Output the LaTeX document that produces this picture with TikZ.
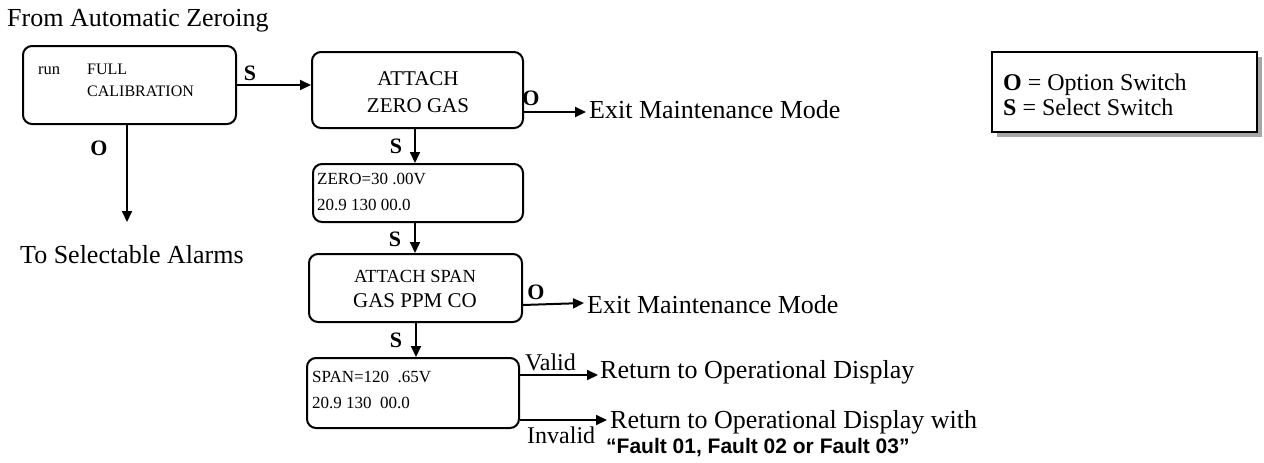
\documentclass[tikz,border=0pt]{standalone}
\usepackage{fontspec}
\setmainfont{Liberation Serif}
\newfontfamily\arialfont{Liberation Sans}
\usetikzlibrary{arrows.meta,calc}
\tikzset{
  box/.style={draw, line width=2pt, rounded corners=9pt, inner sep=0pt},
  arr/.style={line width=2pt, -{Triangle[length=11pt,width=10pt]}},
  txt/.style={inner sep=0pt, anchor=base west, font=\fontsize{26}{30}\selectfont},
  small/.style={inner sep=0pt, anchor=base west, font=\fontsize{17}{20}\selectfont},
  mid/.style={inner sep=0pt, anchor=base, font=\fontsize{21}{24}\selectfont},
  lbl/.style={inner sep=0pt, font=\bfseries\fontsize{22}{24}\selectfont},
  vlbl/.style={inner sep=0pt, anchor=base west, font=\fontsize{24}{28}\selectfont}
}
\begin{document}
\begin{tikzpicture}[x=1pt,y=-1pt]
\useasboundingbox (0,0) rectangle (1264,463);
% boxes
\node[box, minimum width=213pt, minimum height=78pt] (b1) at (129.5,85) {};
\node[box, minimum width=211pt, minimum height=76pt] (b2) at (417.5,90) {};
\node[box, minimum width=210pt, minimum height=58pt] (b3) at (418,193) {};
\node[box, minimum width=213pt, minimum height=68pt] (b4) at (415.5,288) {};
\node[box, minimum width=212pt, minimum height=70pt] (b5) at (413,393) {};
% box texts
\node[txt] (from) at (7,27) {From Automatic Zeroing};
\node[small, font=\fontsize{16.5}{20}\selectfont] (run) at (38,74) {run};
\node[small, font=\fontsize{16}{20}\selectfont] (full) at (87,74) {FULL};
\node[small, font=\fontsize{16}{20}\selectfont] (calib) at (87,96) {CALIBRATION};
\node[mid] (att1) at (418,85) {ATTACH};
\node[mid] (zg) at (418,112) {ZERO GAS};
\node[small] (z1) at (317,184) {ZERO=30 .00V};
\node[small] (z2) at (317,210) {20.9 130 00.0};
\node[mid, font=\fontsize{18.5}{22}\selectfont] (att2) at (415,282) {ATTACH SPAN};
\node[mid] (gpc) at (415,307) {GAS PPM CO};
\node[small] (s1) at (312,382) {SPAN=120\ \ .65V};
\node[small] (s2) at (312,408) {20.9 130\ \ 00.0};
% outer texts
\node[txt] (alarms) at (20,263) {To Selectable Alarms};
\node[txt] (exit1) at (589,118) {Exit Maintenance Mode};
\node[txt] (exit2) at (587,313) {Exit Maintenance Mode};
\node[txt] (ret1) at (600,378) {Return to Operational Display};
\node[txt] (ret2) at (610,428) {Return to Operational Display with};
\node[inner sep=0pt, anchor=base west, font=\arialfont\bfseries\fontsize{21}{24}\selectfont] (fault) at (606,453) {“Fault 01, Fault 02 or Fault 03”};
% coordinates
\coordinate (alarmEnd) at (127,222);
\coordinate (e1) at (586,112);
\coordinate (e2) at (584,303);
\coordinate (r1) at (598,375);
\coordinate (r2) at (607,420);
% connectors
\draw[arr] (b1.east) -- (b1.east -| b2.west);
\draw[arr] (b1.south -| alarmEnd) -- (alarmEnd);
\draw[arr] (b2.east |- e1) -- (e1);
\draw[arr] (b2.south -| 415,0) -- (b3.north -| 415,0);
\draw[arr] (b3.south -| 415,0) -- (b4.north -| 415,0);
\draw[arr] (b4.east |- 0,305) -- (e2);
\draw[arr] (b4.south -| 416,0) -- (b5.north -| 416,0);
\draw[arr] (b5.east |- r1) -- (r1);
\draw[arr] (b5.east |- r2) -- (r2);
% labels
\node[lbl] (ls1) at (250,73) {S};
\node[lbl] (lo1) at (99,148) {O};
\node[lbl] (lo2) at (531,98) {O};
\node[lbl] (ls2) at (396,146) {S};
\node[lbl] (ls3) at (395,239) {S};
\node[lbl] (lo3) at (536,292) {O};
\node[lbl] (ls4) at (396,340) {S};
\node[vlbl] (valid) at (525,370) {Valid};
\node[vlbl] (invalid) at (527,443) {Invalid};
% legend
\fill[gray!70] (997,57) rectangle (1262,137);
\node[draw, line width=2pt, fill=white, minimum width=265pt, minimum height=80pt, inner sep=0pt] (legend) at (1124.5,92) {};
\node[vlbl] (leg1) at (1003,90) {\textbf{O} = Option Switch};
\node[vlbl] (leg2) at (1003,115) {\textbf{S} = Select Switch};
\end{tikzpicture}
\end{document}
